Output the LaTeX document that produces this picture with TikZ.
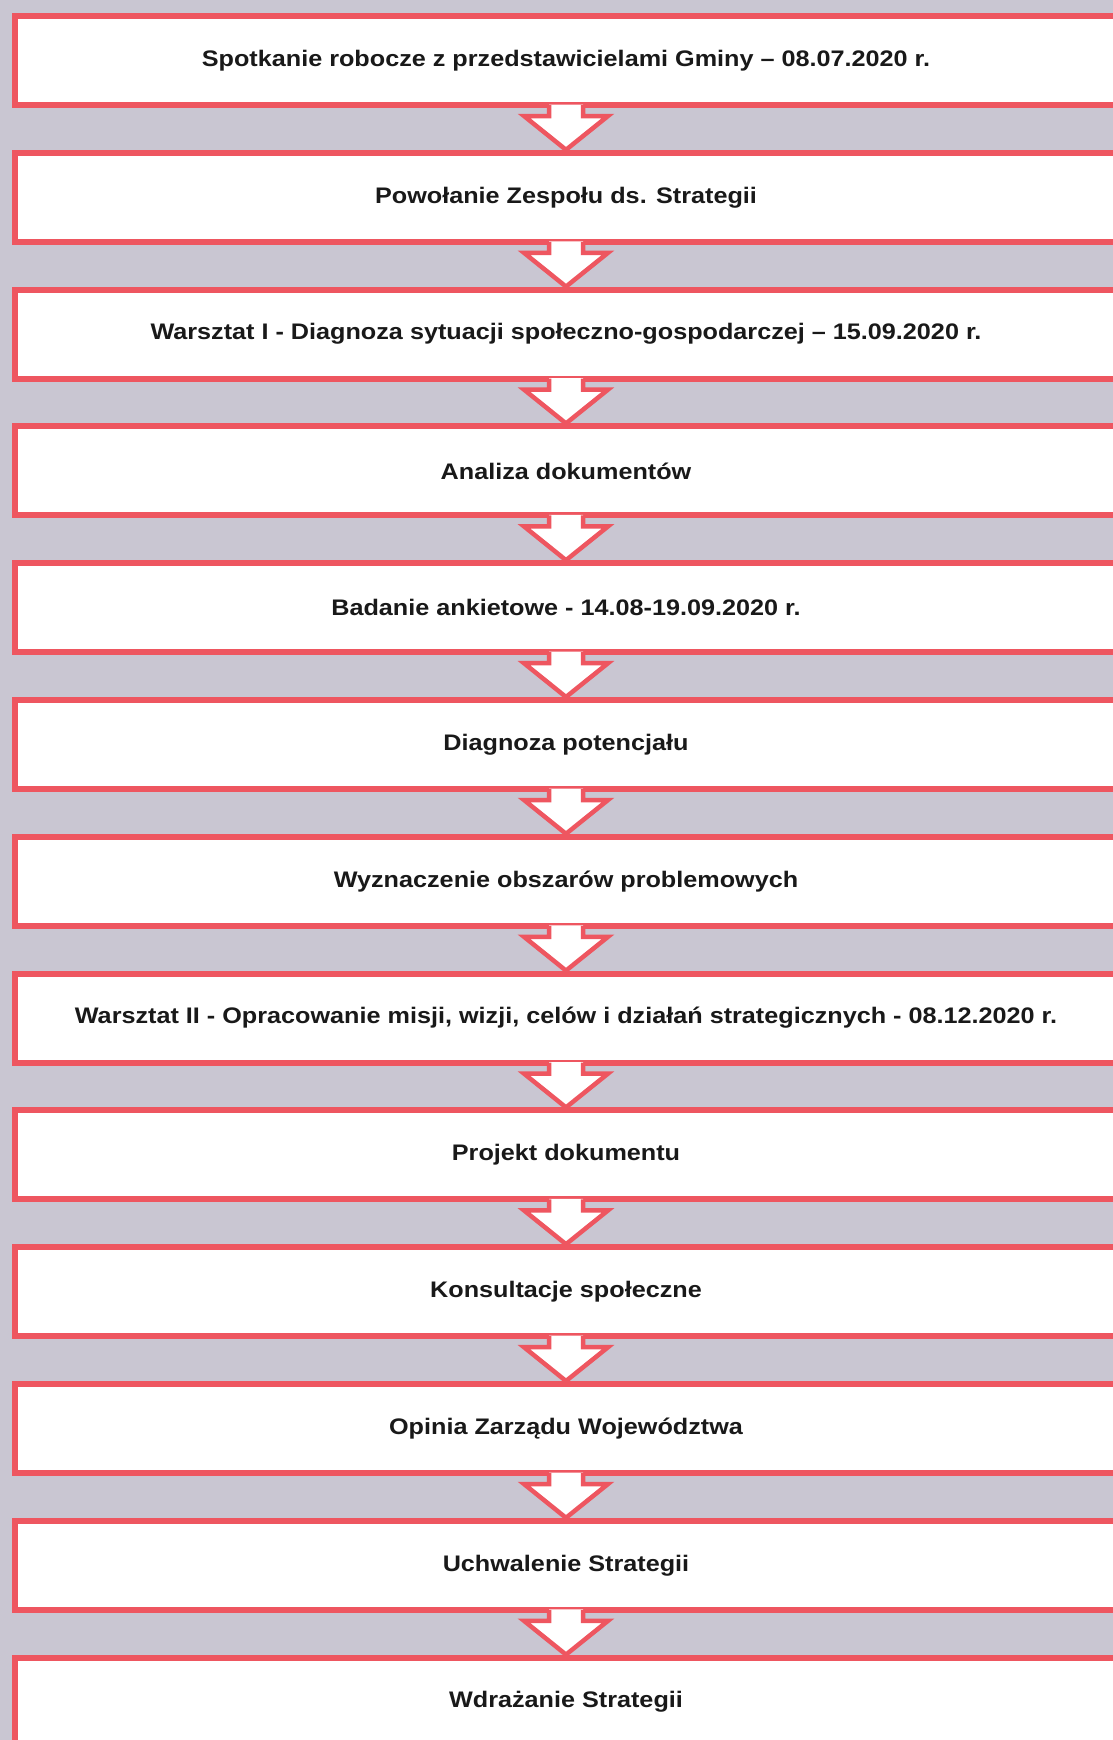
\documentclass[tikz,border=0pt]{standalone}
\usepackage{fontspec}
\setmainfont[FakeStretch=1.12]{Liberation Sans}
\definecolor{framered}{RGB}{238,86,96}
\definecolor{paper}{RGB}{201,198,210}

% arrow from one step box down to the next
\newcommand{\StepArrow}[2]{%
    \fill[white] ([xshift=-17pt,yshift=3.5pt]#1.south) -- ([xshift=-17pt,yshift=-8pt]#1.south)
        -- ([xshift=-42pt,yshift=-8pt]#1.south) -- (#2.north)
        -- ([xshift=42pt,yshift=-8pt]#1.south) -- ([xshift=17pt,yshift=-8pt]#1.south)
        -- ([xshift=17pt,yshift=3.5pt]#1.south) -- cycle;
    \draw[arrowline] ([xshift=-17pt,yshift=3pt]#1.south) -- ([xshift=-17pt,yshift=-8pt]#1.south)
        -- ([xshift=-42pt,yshift=-8pt]#1.south) -- (#2.north)
        -- ([xshift=42pt,yshift=-8pt]#1.south) -- ([xshift=17pt,yshift=-8pt]#1.south)
        -- ([xshift=17pt,yshift=3pt]#1.south);}

\begin{document}
\begin{tikzpicture}[x=1pt,y=-1pt]
    \tikzset{stepbox/.style={draw = framered, fill = white,
                line width = 6pt, inner sep = 0pt,
                minimum width = 1102pt, minimum height = 89pt,
                font = \fontsize{22.5}{26}\selectfont\bfseries,
                text = black!90},
             arrowline/.style={draw = framered, line width = 4.5pt,
                line join = miter}}
    \useasboundingbox (0,0) rectangle (1113,1740);
    \clip (0,0) rectangle (1113,1740);
    \fill[paper] (0,0) rectangle (1113,1740);
    \node[stepbox] (b1) at (566,60.5) {Spotkanie robocze z przedstawicielami Gminy – 08.07.2020 r.};
    \node[stepbox] (b2) at (566,197.3) {Powołanie Zespołu ds. Strategii};
    \node[stepbox] (b3) at (566,334.1) {Warsztat I - Diagnoza sytuacji społeczno-gospodarczej – 15.09.2020 r.};
    \node[stepbox] (b4) at (566,470.9) {Analiza dokumentów};
    \node[stepbox] (b5) at (566,607.7) {Badanie ankietowe - 14.08-19.09.2020 r.};
    \node[stepbox] (b6) at (566,744.5) {Diagnoza potencjału};
    \node[stepbox] (b7) at (566,881.3) {Wyznaczenie obszarów problemowych};
    \node[stepbox] (b8) at (566,1018.1) {Warsztat II - Opracowanie misji, wizji, celów i działań strategicznych - 08.12.2020 r.};
    \node[stepbox] (b9) at (566,1154.9) {Projekt dokumentu};
    \node[stepbox] (b10) at (566,1291.7) {Konsultacje społeczne};
    \node[stepbox] (b11) at (566,1428.5) {Opinia Zarządu Województwa};
    \node[stepbox] (b12) at (566,1565.3) {Uchwalenie Strategii};
    \node[stepbox] (b13) at (566,1702.1) {Wdrażanie Strategii};
    \StepArrow{b1}{b2}
    \StepArrow{b2}{b3}
    \StepArrow{b3}{b4}
    \StepArrow{b4}{b5}
    \StepArrow{b5}{b6}
    \StepArrow{b6}{b7}
    \StepArrow{b7}{b8}
    \StepArrow{b8}{b9}
    \StepArrow{b9}{b10}
    \StepArrow{b10}{b11}
    \StepArrow{b11}{b12}
    \StepArrow{b12}{b13}
\end{tikzpicture}
\end{document}
